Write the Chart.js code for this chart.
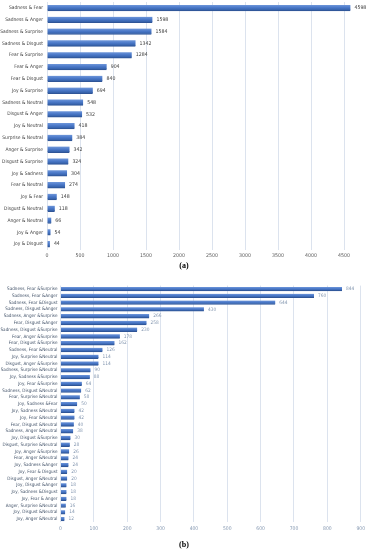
<!DOCTYPE html>
<html>
<head>
<meta charset="utf-8">
<script src="https://cdn.jsdelivr.net/npm/chart.js@4/dist/chart.umd.min.js"></script>
<style>
  html,body{margin:0;padding:0;background:#fff;}
  body{width:368px;height:550px;position:relative;overflow:hidden;}
  canvas{position:absolute;left:0;}
  .cap{position:absolute;width:368px;text-align:center;font-family:"Liberation Serif",serif;font-weight:bold;font-size:8px;color:#000;}
</style>
</head>
<body>
<canvas id="ca" width="368" height="262" style="top:0px"></canvas>
<div class="cap" style="top:261px">(a)</div>
<canvas id="cb" width="368" height="250" style="top:284px"></canvas>
<div class="cap" style="top:540px">(b)</div>
<script>
// ---- Data (a): pairs of emotions ----
const pairLabels = ["Sadness & Fear","Sadness & Anger","Sadness & Surprise","Sadness & Disgust","Fear & Surprise","Fear & Anger","Fear & Disgust","Joy & Surprise","Sadness & Neutral","Disgust & Anger","Joy & Neutral","Surprise & Neutral","Anger & Surprise","Disgust & Surprise","Joy & Sadness","Fear & Neutral","Joy & Fear","Disgust & Neutral","Anger & Neutral","Joy & Anger","Joy & Disgust"];
const pairValues = [4598,1598,1584,1342,1284,904,840,694,548,532,418,384,342,324,304,274,148,118,66,54,44];
const pairTicks = [0,500,1000,1500,2000,2500,3000,3500,4000,4500];

// ---- Data (b): triples of emotions ----
const tripleLabels = ["Sadness, Fear &Surprise","Sadness, Fear &Anger","Sadness, Fear &Disgust","Sadness, Disgust &Anger","Sadness, Anger &Surprise","Fear, Disgust &Anger","Sadness, Disgust &Surprise","Fear, Anger &Surprise","Fear, Disgust &Surprise","Sadness, Fear &Neutral","Joy, Surprise &Neutral","Disgust, Anger &Surprise","Sadness, Surprise &Neutral","Joy, Sadness &Surprise","Joy, Fear &Surprise","Sadness, Disgust &Neutral","Fear, Surprise &Neutral","Joy, Sadness &Fear","Joy, Sadness &Neutral","Joy, Fear &Neutral","Fear, Disgust &Neutral","Sadness, Anger &Neutral","Joy, Disgust &Surprise","Disgust, Surprise &Neutral","Joy, Anger &Surprise","Fear, Anger &Neutral","Joy, Sadness &Anger","Joy, Fear & Disgust","Disgust, Anger &Neutral","Joy, Disgust &Anger","Joy, Sadness &Disgust","Joy, Fear & Anger","Anger, Surprise &Neutral","Joy, Disgust &Neutral","Joy, Anger &Neutral"];
const tripleValues = [844,760,644,430,266,258,230,178,162,126,114,114,90,88,64,62,58,50,42,42,40,38,30,28,26,24,24,20,20,18,18,18,16,14,12];
const tripleTicks = [0,100,200,300,400,500,600,700,800,900];

const FONT = "'Liberation Sans Narrow', 'Arial Narrow', 'DejaVu Sans Condensed', sans-serif";

function valueLabels(fontSize, color, offset){
  return {
    id:'valueLabels',
    afterDatasetsDraw(chart){
      const ctx = chart.ctx;
      ctx.save();
      ctx.font = fontSize + "px " + FONT;
      ctx.fillStyle = color;
      ctx.textAlign = 'left';
      ctx.textBaseline = 'middle';
      chart.data.datasets.forEach((ds, i) => {
        chart.getDatasetMeta(i).data.forEach((el, j) => {
          ctx.fillText(String(ds.data[j]), el.x + offset, el.y);
        });
      });
      ctx.restore();
    }
  };
}

function barFill(thickness){
  return (c) => {
    if (c.type !== 'data' || !c.chart.scales || !c.chart.scales.y) return '#4472C4';
    const y = c.chart.scales.y.getPixelForValue(c.dataIndex);
    if (!isFinite(y)) return '#4472C4';
    const g = c.chart.ctx.createLinearGradient(0, y - thickness/2, 0, y + thickness/2);
    g.addColorStop(0, '#6F97DA');
    g.addColorStop(0.45, '#4A78C8');
    g.addColorStop(1, '#2F5A9F');
    return g;
  };
}

function makeChart(id, labels, values, ticks, cfg){
  return new Chart(document.getElementById(id), {
    type:'bar',
    data:{
      labels: labels,
      datasets:[{
        data: values,
        backgroundColor: barFill(cfg.bar),
        borderColor:'#2F5597',
        borderWidth:{top:0,left:0,right:0,bottom:1},
        borderSkipped:false,
        barThickness: cfg.bar,
        clip:false
      }]
    },
    options:{
      indexAxis:'y',
      responsive:false,
      animation:false,
      devicePixelRatio:1,
      layout:{padding:cfg.padding},
      plugins:{legend:{display:false},tooltip:{enabled:false}},
      scales:{
        x:{
          min:ticks[0], max:ticks[ticks.length-1],
          afterBuildTicks: s => { s.ticks = ticks.map(v => ({value:v})); },
          grid:{color:'#DCE3EE', lineWidth:1, drawTicks:false},
          border:{display:false},
          ticks:{font:{family:FONT,size:cfg.xfont}, color:cfg.xcolor, padding:3, maxRotation:0, autoSkip:false,
                 callback: v => String(v)},
          afterFit: s => { s.height = cfg.xh; }
        },
        y:{
          grid:{display:false, drawTicks:false},
          border:{display:false},
          ticks:{font:{family:FONT,size:cfg.yfont}, color:cfg.ycolor, padding:cfg.ypad, autoSkip:false},
          afterFit: s => { s.width = cfg.yw; s.paddingTop = 0; s.paddingBottom = 0; }
        }
      }
    },
    plugins:[valueLabels(cfg.vfont, cfg.vcolor, 4)]
  });
}

makeChart('ca', pairLabels, pairValues, pairTicks, {
  bar:6, padding:{top:2,right:24,left:0,bottom:0},
  xfont:5.2, xcolor:'#595959', xh:12,
  yfont:4.9, ycolor:'#404040', ypad:4, yw:47,
  vfont:5.2, vcolor:'#404040'
});

makeChart('cb', tripleLabels, tripleValues, tripleTicks, {
  bar:4, padding:{top:1.6,right:6,left:0,bottom:0},
  xfont:5, xcolor:'#8497B0', xh:11.6,
  yfont:4.6, ycolor:'#44546A', ypad:3, yw:60.5,
  vfont:4.8, vcolor:'#8497B0'
});
</script>
</body>
</html>
